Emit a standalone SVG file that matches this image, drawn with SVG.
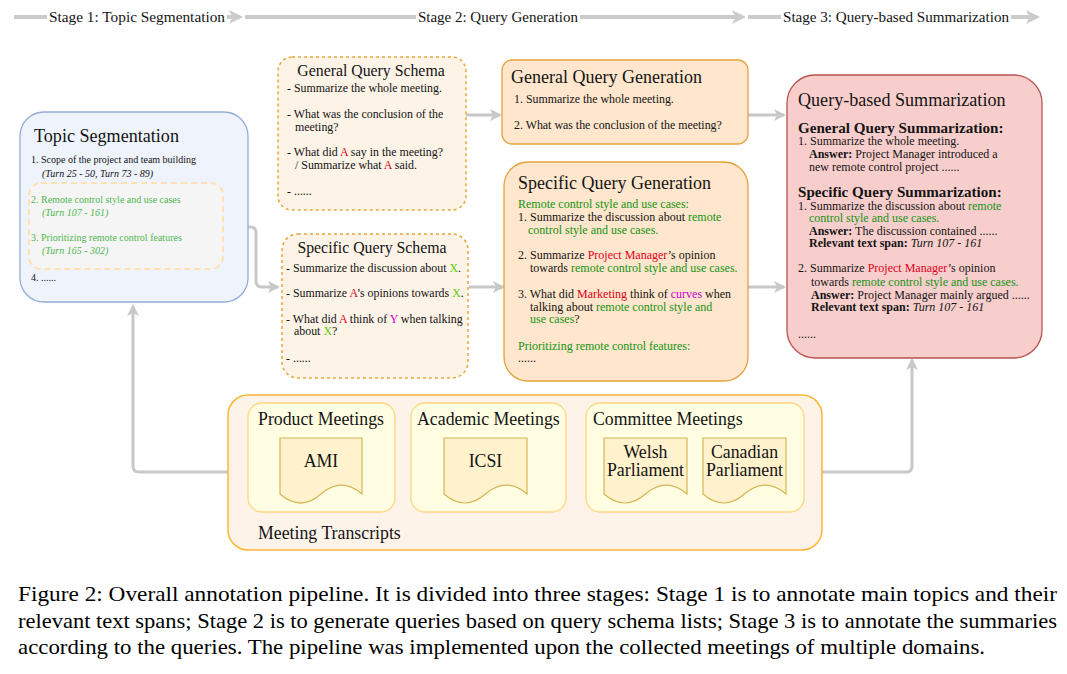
<svg xmlns="http://www.w3.org/2000/svg" width="1067" height="674" viewBox="0 0 1067 674">
<style>
text{font-family:'Liberation Serif','Times New Roman',serif;fill:#141414;}
.conn{fill:none;stroke:#c8c8c8;stroke-width:3;}
.stage{fill:none;stroke:#cbcbcb;stroke-width:4;}
.st{font-size:14px;}
.s9{font-size:10px;}
.s11{font-size:11.9px;}
.s113{font-size:12px;}
.ttl{font-size:18px;}
.bh{font-size:15.1px;font-weight:bold;}
.b{font-weight:bold;}
.i{font-style:italic;}
.g{fill:#149414;}
.lg{fill:#4fb84f;}
.x{fill:#5ccc00;}
.r{fill:#e0001a;}
.m{fill:#cc00cc;}
.schema{fill:#fdf3e7;stroke:#e5a83a;stroke-width:1.5;stroke-dasharray:3 3;}
.gen{fill:#ffe6cc;stroke:#e4a23a;stroke-width:1.3;}
.inner{fill:#fffee2;stroke:#ffd580;stroke-width:1.3;}
.doc{fill:#fff2cc;stroke:#d6b656;stroke-width:1.2;}
.mt{font-size:17.8px;}
.cap{font-size:22px;fill:#000;}
</style>
<defs>
<marker id="ah" viewBox="0 0 12 12" markerWidth="12" markerHeight="12" refX="10" refY="6" orient="auto" markerUnits="userSpaceOnUse"><path d="M0,0 L12,6 L0,12 L3,6 Z" fill="#c8c8c8"/></marker>
<marker id="ahs" viewBox="0 0 14 14" markerWidth="14" markerHeight="14" refX="11" refY="7" orient="auto" markerUnits="userSpaceOnUse"><path d="M0,0 L14,7 L0,14 L3.5,7 Z" fill="#cbcbcb"/></marker>
</defs>
<rect width="1067" height="674" fill="#ffffff"/>

<g id="stages">
<path class="stage" d="M14,17 H240" marker-end="url(#ahs)"/>
<path class="stage" d="M245,17 H743" marker-end="url(#ahs)"/>
<path class="stage" d="M748,17 H1037" marker-end="url(#ahs)"/>
<rect x="47" y="7" width="180" height="20" fill="#fff"/>
<text class="st" x="137" y="22" text-anchor="middle" textLength="176" lengthAdjust="spacingAndGlyphs">Stage 1: Topic Segmentation</text>
<rect x="416" y="7" width="164" height="20" fill="#fff"/>
<text class="st" x="498" y="22" text-anchor="middle" textLength="160" lengthAdjust="spacingAndGlyphs">Stage 2: Query Generation</text>
<rect x="781" y="7" width="230" height="20" fill="#fff"/>
<text class="st" x="896" y="22" text-anchor="middle" textLength="226" lengthAdjust="spacingAndGlyphs">Stage 3: Query-based Summarization</text>
</g>

<g id="connectors">
<path class="conn" d="M223,227 H250 Q256,227 256,233 V281 Q256,287 262,287 H278" marker-end="url(#ah)"/>
<path class="conn" d="M466,115 H500" marker-end="url(#ah)"/>
<path class="conn" d="M469,287 H503" marker-end="url(#ah)"/>
<path class="conn" d="M748,115 H784" marker-end="url(#ah)"/>
<path class="conn" d="M748,287 H784" marker-end="url(#ah)"/>
<path class="conn" d="M228,472 H139 Q133,472 133,466 V306" marker-end="url(#ah)"/>
<path class="conn" d="M822,472 H906 Q912,472 912,466 V360" marker-end="url(#ah)"/>
</g>

<g id="topic-segmentation">
<rect x="20" y="112" width="228" height="190" rx="24" fill="#eef3fc" stroke="#94acd6" stroke-width="1.3"/>
<text x="34" y="142" font-size="18.1">Topic Segmentation</text>
<text class="s9" x="31" y="163">1. Scope of the project and team building</text>
<text class="s9 i" x="42" y="177">(Turn 25 - 50, Turn 73 - 89)</text>
<rect x="29" y="183" width="194" height="86" rx="12" fill="#f5f5f5" stroke="#ffe0b2" stroke-width="2" stroke-dasharray="6 4"/>
<text class="s9 lg" x="31" y="203">2. Remote control style and use cases</text>
<text class="s9 i lg" x="42" y="216">(Turn 107 - 161)</text>
<text class="s9 lg" x="31" y="241">3. Prioritizing remote control features</text>
<text class="s9 i lg" x="42" y="254">(Turn 165 - 302)</text>
<text class="s9" x="31" y="281">4. ......</text>
</g>

<g id="general-query-schema">
<rect class="schema" x="278" y="57" width="188" height="153" rx="14"/>
<text x="371" y="76" font-size="15.8" text-anchor="middle">General Query Schema</text>
<text class="s11" x="287" y="92">- Summarize the whole meeting.</text>
<text class="s11" x="287" y="118">- What was the conclusion of the</text>
<text class="s11" x="295" y="131">meeting?</text>
<text class="s11" x="287" y="156">- What did <tspan class="r">A</tspan> say in the meeting?</text>
<text class="s11" x="295" y="169">/ Summarize what <tspan class="r">A</tspan> said.</text>
<text class="s11" x="287" y="195">- ......</text>
</g>

<g id="specific-query-schema">
<rect class="schema" x="282" y="234" width="186" height="144" rx="16"/>
<text x="372" y="253" font-size="15.8" text-anchor="middle">Specific Query Schema</text>
<text class="s11" x="286" y="272">- Summarize the discussion about <tspan class="x">X</tspan>.</text>
<text class="s11" x="286" y="297">- Summarize <tspan class="r">A</tspan>’s opinions towards <tspan class="x">X</tspan>.</text>
<text class="s11" x="286" y="323">- What did <tspan class="r">A</tspan> think of <tspan class="m">Y</tspan> when talking</text>
<text class="s11" x="294" y="335">about <tspan class="x">X</tspan>?</text>
<text class="s11" x="286" y="362">- ......</text>
</g>

<g id="general-query-generation">
<rect class="gen" x="502" y="60" width="246" height="84" rx="10"/>
<text class="ttl" x="511" y="83">General Query Generation</text>
<text class="s11" x="514" y="103">1. Summarize the whole meeting.</text>
<text class="s11" x="514" y="129">2. What was the conclusion of the meeting?</text>
</g>

<g id="specific-query-generation">
<rect class="gen" x="504" y="162" width="244" height="219" rx="24"/>
<text class="ttl" x="518" y="189">Specific Query Generation</text>
<text class="s113 g" x="518" y="208">Remote control style and use cases:</text>
<text class="s113" x="518" y="221">1. Summarize the discussion about <tspan class="g">remote</tspan></text>
<text class="s113 g" x="528" y="234">control style and use cases.</text>
<text class="s113" x="518" y="259">2. Summarize <tspan class="r">Project Manager</tspan>’s opinion</text>
<text class="s113" x="530" y="272">towards <tspan class="g">remote control style and use cases.</tspan></text>
<text class="s113" x="518" y="298">3. What did <tspan class="r">Marketing</tspan> think of <tspan class="m">curves</tspan> when</text>
<text class="s113" x="530" y="311">talking about <tspan class="g">remote control style and</tspan></text>
<text class="s113" x="530" y="323"><tspan class="g">use cases</tspan>?</text>
<text class="s113 g" x="518" y="350">Prioritizing remote control features:</text>
<text class="s113" x="518" y="362">......</text>
</g>

<g id="query-based-summarization">
<rect x="787" y="75" width="255" height="283" rx="28" fill="#f8cecc" stroke="#b85450" stroke-width="1.3"/>
<text x="798" y="106" font-size="18.1">Query-based Summarization</text>
<text class="bh" x="798" y="133">General Query Summarization:</text>
<text class="s113" x="798" y="145">1. Summarize the whole meeting.</text>
<text class="s113" x="809" y="158"><tspan class="b">Answer:</tspan> Project Manager introduced a</text>
<text class="s113" x="809" y="171">new remote control project ......</text>
<text class="bh" x="798" y="197">Specific Query Summarization:</text>
<text class="s113" x="798" y="210">1. Summarize the discussion about <tspan class="g">remote</tspan></text>
<text class="s113 g" x="809" y="222">control style and use cases.</text>
<text class="s113" x="809" y="235"><tspan class="b">Answer:</tspan> The discussion contained ......</text>
<text class="s113" x="809" y="247"><tspan class="b">Relevant text span:</tspan> <tspan class="i">Turn 107 - 161</tspan></text>
<text class="s113" x="798" y="272">2. Summarize <tspan class="r">Project Manager</tspan>’s opinion</text>
<text class="s113" x="811" y="286">towards <tspan class="g">remote control style and use cases.</tspan></text>
<text class="s113" x="811" y="299"><tspan class="b">Answer:</tspan> Project Manager mainly argued ......</text>
<text class="s113" x="811" y="311"><tspan class="b">Relevant text span:</tspan> <tspan class="i">Turn 107 - 161</tspan></text>
<text class="s113" x="798" y="338">......</text>
</g>

<g id="meeting-transcripts">
<rect x="228" y="395" width="594" height="155" rx="20" fill="#fdf3e8" stroke="#ffb733" stroke-width="1.5"/>
<text class="mt" x="258" y="539">Meeting Transcripts</text>
</g>

<g id="product-meetings">
<rect class="inner" x="248" y="403" width="147" height="109" rx="14"/>
<text class="mt" x="258" y="425">Product Meetings</text>
</g>
<g id="ami">
<path class="doc" d="M280,438 H362 V494 Q341.5,476.3 321,494 Q300.5,512 280,494 Z"/>
<text class="mt" x="321" y="467" text-anchor="middle">AMI</text>
</g>

<g id="academic-meetings">
<rect class="inner" x="411" y="403" width="155" height="109" rx="14"/>
<text class="mt" x="417" y="425">Academic Meetings</text>
</g>
<g id="icsi">
<path class="doc" d="M444,438 H527 V494 Q506.25,476.3 485.5,494 Q464.75,512 444,494 Z"/>
<text class="mt" x="485.5" y="467" text-anchor="middle">ICSI</text>
</g>

<g id="committee-meetings">
<rect class="inner" x="586" y="403" width="218" height="109" rx="14"/>
<text class="mt" x="593" y="425">Committee Meetings</text>
</g>
<g id="welsh-parliament">
<path class="doc" d="M604,438 H687 V494 Q666.25,476.3 645.5,494 Q624.75,512 604,494 Z"/>
<text class="mt" x="645.5" y="458" text-anchor="middle">Welsh</text>
<text class="mt" x="645.5" y="476" text-anchor="middle">Parliament</text>
</g>
<g id="canadian-parliament">
<path class="doc" d="M703,438 H786 V494 Q765.25,476.3 744.5,494 Q723.75,512 703,494 Z"/>
<text class="mt" x="744.5" y="458" text-anchor="middle">Canadian</text>
<text class="mt" x="744.5" y="476" text-anchor="middle">Parliament</text>
</g>

<g id="caption">
<text class="cap" x="18" y="601" textLength="1039" lengthAdjust="spacingAndGlyphs">Figure 2: Overall annotation pipeline. It is divided into three stages: Stage 1 is to annotate main topics and their</text>
<text class="cap" x="18" y="627.5" textLength="1039" lengthAdjust="spacingAndGlyphs">relevant text spans; Stage 2 is to generate queries based on query schema lists; Stage 3 is to annotate the summaries</text>
<text class="cap" x="18" y="654" textLength="967" lengthAdjust="spacingAndGlyphs">according to the queries. The pipeline was implemented upon the collected meetings of multiple domains.</text>
</g>
</svg>
